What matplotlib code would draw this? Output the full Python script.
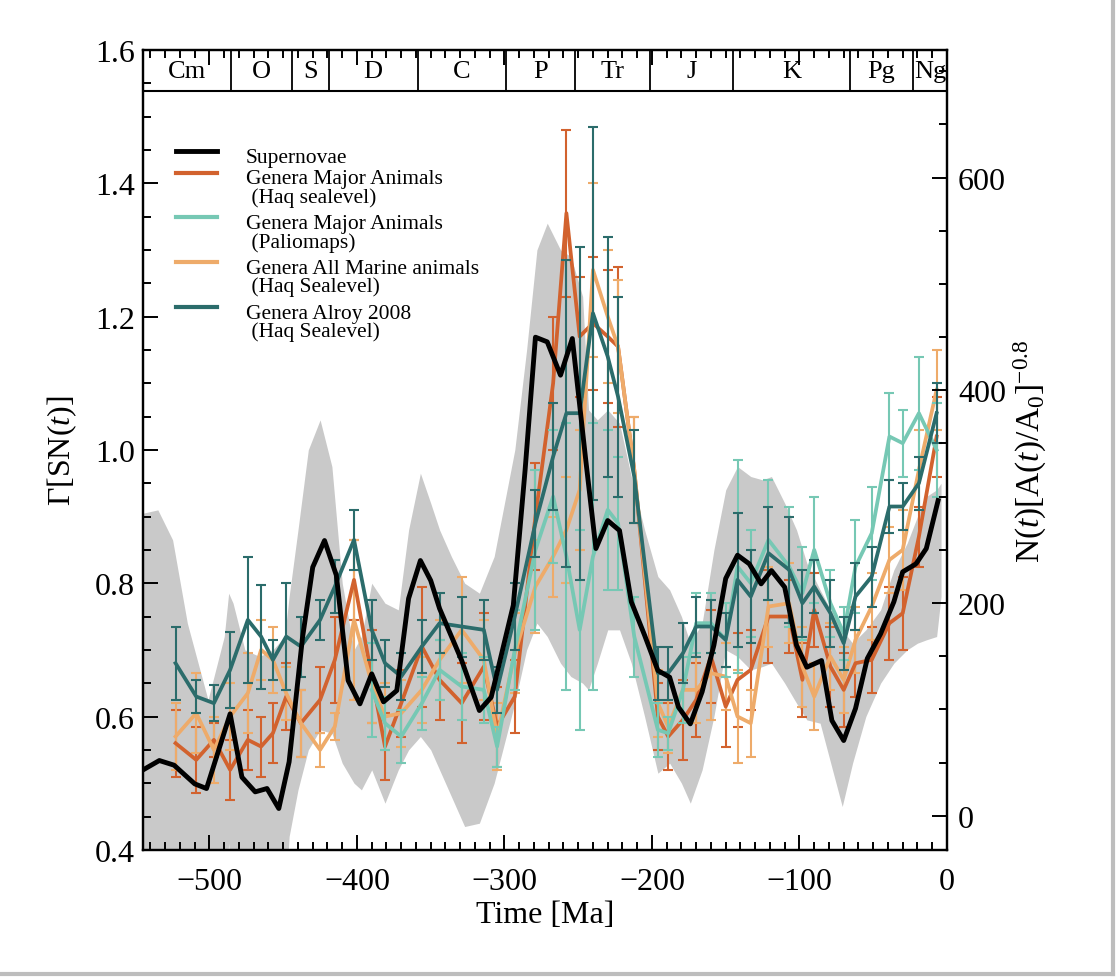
import matplotlib
matplotlib.use('agg')
import matplotlib.pyplot as plt
from matplotlib.lines import Line2D
from matplotlib.ticker import MultipleLocator

plt.rcParams['font.family'] = ['Liberation Serif', 'DejaVu Serif']
plt.rcParams['mathtext.fontset'] = 'custom'
plt.rcParams['mathtext.rm'] = 'Liberation Serif'
plt.rcParams['mathtext.it'] = 'Liberation Serif:italic'

# geological periods (Ma)
period_edges = [-545, -485.4, -443.8, -419.2, -358.9, -298.9, -251.9, -201.3, -145.0, -66.0, -23.0, 0]
period_names = ['Cm', 'O', 'S', 'D', 'C', 'P', 'Tr', 'J', 'K', 'Pg', 'Ng']

# supernova rate
sn_ages = [-545, -534, -524, -510, -502, -486, -478, -469, -461, -453, -446, -437, -430, -422, -414,
           -406, -398, -390, -382, -373, -365, -357, -350, -344, -329, -317, -309, -294, -286, -279,
           -271, -262, -254, -245, -238, -230, -222, -214, -205, -196, -188, -182, -174, -166, -158,
           -150, -142, -134, -126, -119, -110, -102, -95, -85, -78, -70, -62, -54, -45, -36, -30,
           -21, -14, -6]
sn_vals = [0.52, 0.534, 0.527, 0.499, 0.492, 0.604, 0.509, 0.487, 0.492, 0.462, 0.532, 0.717, 0.824, 0.864, 0.812,
           0.654, 0.619, 0.664, 0.622, 0.639, 0.777, 0.834, 0.804, 0.762, 0.684, 0.609, 0.629, 0.767, 0.97, 1.169,
           1.162, 1.112, 1.167, 0.987, 0.852, 0.894, 0.879, 0.772, 0.722, 0.669, 0.659, 0.614, 0.589, 0.637, 0.707,
           0.807, 0.842, 0.829, 0.799, 0.819, 0.794, 0.707, 0.674, 0.684, 0.594, 0.564, 0.612, 0.687, 0.724, 0.772, 0.817,
           0.829, 0.852, 0.924]

# genera bins (Ma)
ages = [-523, -509, -497, -486, -474, -465, -457, -448, -438, -425, -415, -402, -390, -381, -370, -356,
        -344, -329, -314, -305, -293, -279, -267, -258, -249, -240, -230, -223, -212, -196, -189, -179,
        -170, -160, -150, -142, -133, -121, -107, -98, -90, -79, -70, -62, -51, -39, -30, -19, -7]

haq_major = [0.56, 0.535, 0.565, 0.52, 0.565, 0.555, 0.575, 0.63, 0.59, 0.625, 0.685, 0.805, 0.66, 0.555, 0.62, 0.705,
             0.655, 0.62, 0.675, 0.585, 0.63, 0.90, 1.10, 1.355, 1.17, 1.19, 1.17, 1.155, 0.97, 0.60, 0.57, 0.595,
             0.625, 0.69, 0.615, 0.655, 0.67, 0.75, 0.75, 0.655, 0.76, 0.675, 0.64, 0.68, 0.685, 0.74, 0.755, 0.87, 1.02]
haq_major_err = [0.05, 0.05, 0.025, 0.045, 0.045, 0.045, 0.045, 0.05, 0.05, 0.05, 0.065, 0.06, 0.07, 0.05, 0.05, 0.09,
                 0.06, 0.06, 0.08, 0.06, 0.055, 0.08, 0.10, 0.125, 0.09, 0.10, 0.10, 0.12, 0.08, 0.05, 0.05, 0.06,
                 0.055, 0.07, 0.06, 0.07, 0.06, 0.07, 0.055, 0.055, 0.055, 0.06, 0.055, 0.05, 0.05, 0.055, 0.055, 0.045, 0.06]

palio_ages = ages[12:]
palio_major = [0.64, 0.59, 0.57, 0.62, 0.67, 0.645, 0.64, 0.555, 0.70, 0.85, 0.93, 0.84, 0.73, 0.84, 0.91, 0.89,
               0.72, 0.58, 0.575, 0.64, 0.74, 0.74, 0.715, 0.825, 0.80, 0.865, 0.825, 0.785, 0.85, 0.77, 0.725,
               0.825, 0.875, 1.02, 1.01, 1.055, 1.0]
palio_major_err = [0.07, 0.04, 0.04, 0.04, 0.045, 0.05, 0.05, 0.03, 0.06, 0.12, 0.10, 0.20, 0.15, 0.20, 0.12, 0.10,
                   0.06, 0.04, 0.025, 0.05, 0.045, 0.045, 0.055, 0.16, 0.08, 0.09, 0.09, 0.07, 0.08, 0.05, 0.04,
                   0.07, 0.07, 0.065, 0.05, 0.085, 0.07]

haq_marine = [0.57, 0.605, 0.55, 0.60, 0.635, 0.70, 0.685, 0.635, 0.59, 0.55, 0.585, 0.745, 0.65, 0.60, 0.605, 0.64,
              0.685, 0.73, 0.685, 0.57, 0.695, 0.795, 0.84, 0.88, 0.94, 1.27, 1.20, 1.155, 0.97, 0.62, 0.585, 0.64,
              0.64, 0.665, 0.66, 0.60, 0.59, 0.765, 0.77, 0.675, 0.63, 0.69, 0.655, 0.715, 0.765, 0.835, 0.85, 0.97, 1.09]
haq_marine_err = [0.05, 0.06, 0.05, 0.05, 0.06, 0.045, 0.05, 0.04, 0.05, 0.025, 0.02, 0.12, 0.06, 0.05, 0.05, 0.05,
                  0.06, 0.08, 0.06, 0.05, 0.06, 0.07, 0.06, 0.08, 0.09, 0.13, 0.10, 0.10, 0.08, 0.05, 0.04, 0.05,
                  0.05, 0.07, 0.05, 0.07, 0.05, 0.06, 0.06, 0.06, 0.05, 0.05, 0.05, 0.05, 0.05, 0.05, 0.06, 0.06, 0.06]

alroy = [0.68, 0.63, 0.62, 0.67, 0.745, 0.72, 0.685, 0.72, 0.705, 0.745, 0.795, 0.865, 0.73, 0.68, 0.66, 0.705,
         0.74, 0.735, 0.73, 0.64, 0.75, 0.89, 0.99, 1.055, 1.055, 1.205, 1.14, 1.08, 0.96, 0.665, 0.665, 0.695,
         0.735, 0.735, 0.715, 0.805, 0.78, 0.845, 0.82, 0.77, 0.795, 0.755, 0.71, 0.78, 0.81, 0.915, 0.915, 0.95, 1.055]
alroy_err = [0.055, 0.025, 0.027, 0.057, 0.095, 0.078, 0.03, 0.08, 0.045, 0.03, 0.04, 0.045, 0.045, 0.035, 0.035, 0.04,
             0.045, 0.045, 0.045, 0.035, 0.05, 0.05, 0.08, 0.23, 0.25, 0.28, 0.18, 0.15, 0.07, 0.04, 0.04, 0.045,
             0.045, 0.04, 0.04, 0.10, 0.07, 0.07, 0.08, 0.05, 0.04, 0.05, 0.04, 0.05, 0.045, 0.04, 0.035, 0.04, 0.045]

# grey uncertainty band of the supernova rate
band_ages = [-545, -535, -525, -515, -501, -490, -487, -484, -476, -466, -457, -449, -446, -440, -433, -425,
             -417, -410, -402, -397, -390, -381, -372, -365, -357, -350, -344, -336, -327, -317, -307, -300,
             -293, -285, -278, -271, -262, -255, -247, -243, -237, -230, -222, -214, -205, -196, -188, -180,
             -174, -166, -158, -150, -142, -133, -125, -119, -110, -102, -95, -86, -80, -71, -64, -55, -45,
             -36, -27, -20, -14, -7, -4]
band_hi = [0.905, 0.91, 0.865, 0.74, 0.625, 0.72, 0.785, 0.77, 0.70, 0.69, 0.70, 0.72, 0.78, 0.88, 1.00, 1.045,
           0.975, 0.80, 0.70, 0.72, 0.80, 0.77, 0.76, 0.88, 0.965, 0.92, 0.88, 0.84, 0.80, 0.785, 0.84, 0.92,
           1.00, 1.15, 1.30, 1.34, 1.30, 1.29, 1.23, 1.06, 1.045, 1.06, 1.04, 0.96, 0.88, 0.81, 0.79, 0.75,
           0.71, 0.74, 0.85, 0.94, 0.975, 0.96, 0.955, 0.96, 0.92, 0.88, 0.83, 0.79, 0.765, 0.73, 0.71, 0.73, 0.76,
           0.82, 0.86, 0.90, 0.93, 0.94, 0.95]
band_lo = [0.30, 0.30, 0.30, 0.30, 0.30, 0.30, 0.41, 0.30, 0.30, 0.30, 0.30, 0.30, 0.42, 0.49, 0.55, 0.58,
           0.575, 0.53, 0.50, 0.49, 0.52, 0.47, 0.52, 0.55, 0.57, 0.55, 0.52, 0.48, 0.435, 0.44, 0.50, 0.56,
           0.62, 0.70, 0.74, 0.72, 0.68, 0.66, 0.65, 0.64, 0.68, 0.73, 0.73, 0.68, 0.60, 0.515, 0.53, 0.50,
           0.47, 0.52, 0.60, 0.70, 0.69, 0.67, 0.675, 0.68, 0.65, 0.62, 0.595, 0.59, 0.54, 0.465, 0.53, 0.60, 0.65,
           0.68, 0.70, 0.71, 0.715, 0.72, 0.78]

c_orange = '#d2622e'
c_mint = '#76c8b4'
c_sand = '#eeab6a'
c_teal = '#2b6c6b'

fig = plt.figure(figsize=(11.18, 9.78), dpi=100)
ax = fig.add_axes([0.128, 0.130, 0.719, 0.818])

ax.fill_between(band_ages, band_lo, band_hi, color='#c9c9c9', lw=0, zorder=1)

eb = dict(lw=2.7, elinewidth=1.5, capsize=3.5, capthick=1.5)
ax.errorbar(ages, haq_major, yerr=haq_major_err, color=c_orange, zorder=3, **eb)
ax.errorbar(palio_ages, palio_major, yerr=palio_major_err, color=c_mint, zorder=4, **eb)
ax.errorbar(ages, haq_marine, yerr=haq_marine_err, color=c_sand, zorder=3, **eb)
ax.errorbar(ages, alroy, yerr=alroy_err, color=c_teal, zorder=5, **eb)
ax.plot(sn_ages, sn_vals, color='black', lw=3.5, zorder=6)

ax.set_xlim(-545, 0)
ax.set_ylim(0.4, 1.6)

# period bar along the top
bar_y = 1.538
ax.hlines(bar_y, -545, 0, color='black', lw=1.5, zorder=7)
ax.vlines(period_edges[1:-1], bar_y, 1.6, color='black', lw=1.3, zorder=7)
for i, name in enumerate(period_names):
    ax.text((period_edges[i] + period_edges[i + 1]) / 2, 1.568, name,
            ha='center', va='center', fontsize=19, zorder=8)

ax.xaxis.set_major_locator(MultipleLocator(100))
ax.xaxis.set_minor_locator(MultipleLocator(10))
ax.yaxis.set_major_locator(MultipleLocator(0.2))
ax.yaxis.set_minor_locator(MultipleLocator(0.05))
ax.tick_params(which='both', direction='in', top=True, right=False, width=1.4)
ax.tick_params(which='major', length=11, labelsize=23)
ax.tick_params(which='minor', length=6)
ax.tick_params(axis='x', pad=12)
ax.tick_params(axis='y', pad=6)
ax.yaxis.set_major_formatter(plt.FuncFormatter(lambda v, p: f'{v:.1f}'))
for s in ax.spines.values():
    s.set_linewidth(1.6)

ax.set_xlabel('Time [Ma]', fontsize=23, labelpad=3)
ax.set_ylabel(r'Γ[SN($t$)]', fontsize=23, labelpad=11)

ax2 = ax.twinx()
ax2.set_ylim(-32, 720)
ax2.yaxis.set_major_locator(MultipleLocator(200))
ax2.yaxis.set_minor_locator(MultipleLocator(50))
ax2.tick_params(which='both', direction='in', width=1.4)
ax2.tick_params(which='major', length=11, labelsize=23, pad=8)
ax2.tick_params(which='minor', length=6)
for s in ax2.spines.values():
    s.set_linewidth(1.6)
ax2.set_ylabel(r'N($t$)[A($t$)/A$_0$]$^{-0.8}$', fontsize=24, labelpad=4)

# legend, handle drawn beside the first line of each label
legend_items = [('Supernovae', 'black', 3.5),
                ('Genera Major Animals\n (Haq sealevel)', c_orange, 3),
                ('Genera Major Animals\n (Paliomaps)', c_mint, 3),
                ('Genera All Marine animals\n (Haq Sealevel)', c_sand, 3),
                ('Genera Alroy 2008\n (Haq Sealevel)', c_teal, 3)]
y = 0.8735
for i, (label, color, lw) in enumerate(legend_items):
    ax.plot([0.041, 0.092], [y, y], color=color, lw=lw, transform=ax.transAxes, zorder=9)
    ax.text(0.128, y + 0.004, label, transform=ax.transAxes, fontsize=15.5,
            va='top', ha='left', linespacing=0.9, zorder=9)
    y -= 0.027 if i == 0 else 0.056

# grey frame of the original figure
fig.add_artist(Line2D([0.9955, 0.9955], [0.003, 1], color='#bdbdbd', lw=3))
fig.add_artist(Line2D([0, 0.9955], [0.003, 0.003], color='#bdbdbd', lw=3))

fig.savefig('out.png', dpi=100)
